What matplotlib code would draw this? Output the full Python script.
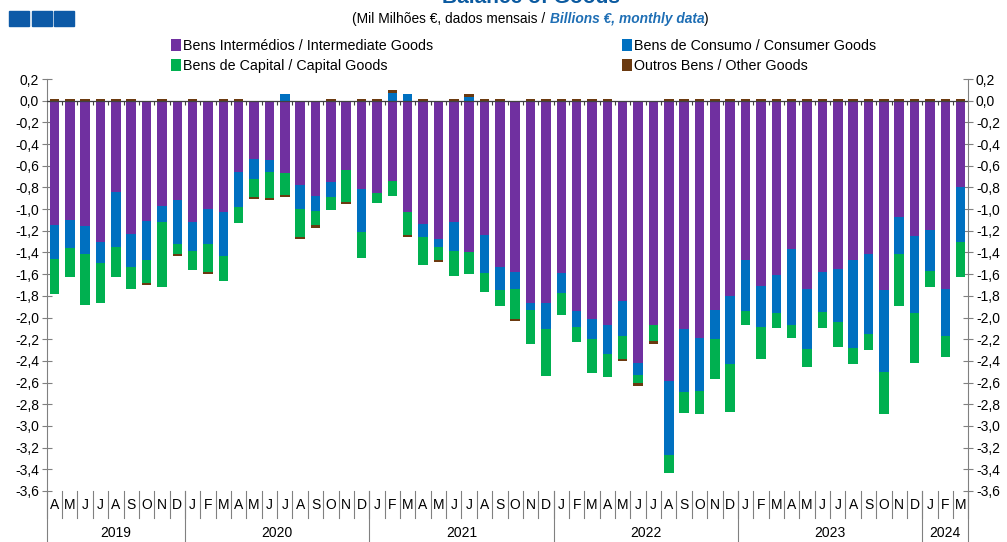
import numpy as np
import matplotlib.pyplot as plt
from matplotlib.patches import Rectangle

# ---- data (billions EUR, monthly, Apr 2019 - Mar 2024) ----
intermediate = [-1.15, -1.10, -1.16, -1.30, -0.84, -1.23, -1.11, -0.97, -0.92,
                -1.12, -1.00, -1.03, -0.66, -0.54, -0.55, -0.67, -0.78, -0.88, -0.75, -0.64, -0.81,
                -0.85, -0.74, -1.03, -1.14, -1.28, -1.12, -1.40, -1.24, -1.53, -1.58, -1.87, -1.87,
                -1.59, -1.94, -2.01, -2.07, -1.85, -2.42, -2.07, -2.59, -2.11, -2.19, -1.93, -1.80,
                -1.47, -1.71, -1.61, -1.37, -1.74, -1.58, -1.55, -1.47, -1.41, -1.75, -1.07, -1.25,
                -1.19, -1.74, -0.80]
consumer = [-0.31, -0.26, -0.25, -0.20, -0.51, -0.30, -0.36, -0.15, -0.40,
            -0.27, -0.32, -0.40, -0.32, -0.18, -0.11, 0.06, -0.22, -0.14, -0.14, 0.00, -0.40,
            0.00, 0.07, 0.06, -0.12, -0.07, -0.27, 0.03, -0.35, -0.22, -0.16, -0.06, -0.24,
            -0.18, -0.15, -0.19, -0.27, -0.32, -0.11, 0.00, -0.68, -0.58, -0.49, -0.27, -0.63,
            -0.47, -0.38, -0.35, -0.70, -0.55, -0.37, -0.49, -0.81, -0.74, -0.75, -0.34, -0.71,
            -0.38, -0.43, -0.50]
capital = [-0.32, -0.27, -0.47, -0.37, -0.28, -0.21, -0.21, -0.60, -0.09,
           -0.17, -0.26, -0.23, -0.15, -0.17, -0.24, -0.20, -0.26, -0.13, -0.12, -0.29, -0.24,
           -0.09, -0.14, -0.21, -0.26, -0.12, -0.23, -0.20, -0.17, -0.14, -0.27, -0.31, -0.43,
           -0.21, -0.14, -0.31, -0.21, -0.21, -0.07, -0.15, -0.16, -0.19, -0.21, -0.37, -0.44,
           -0.13, -0.29, -0.14, -0.12, -0.17, -0.15, -0.23, -0.15, -0.15, -0.39, -0.48, -0.46,
           -0.15, -0.19, -0.33]
other = [0.02, 0.02, 0.02, 0.02, 0.02, 0.02, -0.02, 0.02, -0.02,
         0.02, -0.02, 0.02, 0.02, -0.02, -0.02, -0.02, -0.02, -0.02, 0.02, -0.02, 0.02,
         0.02, 0.03, -0.02, 0.02, -0.02, 0.02, 0.03, 0.02, 0.02, -0.02, 0.02, 0.02,
         0.02, 0.02, 0.02, 0.02, -0.02, -0.03, -0.02, 0.02, 0.02, 0.02, 0.02, 0.02,
         0.02, 0.02, 0.02, 0.02, 0.02, 0.02, 0.02, 0.02, 0.02, 0.02, 0.02, 0.02,
         0.02, 0.02, 0.02]

month_labels = list("AMJJASOND") + list("JFMAMJJASOND") * 4 + list("JFM")
years = ['2019', '2020', '2021', '2022', '2023', '2024']
months_in_year = [9, 12, 12, 12, 12, 3]

series = [
    (intermediate, '#7030A0', 'Bens Intermédios / Intermediate Goods'),
    (consumer, '#0070C0', 'Bens de Consumo / Consumer Goods'),
    (capital, '#00B050', 'Bens de Capital / Capital Goods'),
    (other, '#6B3A10', 'Outros Bens / Other Goods'),
]

plt.rcParams['font.family'] = ['Liberation Sans', 'DejaVu Sans']

fig = plt.figure(figsize=(10.07, 5.42), dpi=100)
ax = fig.add_axes([0.0464, 0.0941, 0.9152, 0.7601])

x = np.arange(len(month_labels))
pos_base = np.zeros(len(x))
neg_base = np.zeros(len(x))
handles = []
for vals, col, lab in series:
    v = np.array(vals)
    bottom = np.where(v >= 0, pos_base, neg_base)
    h = ax.bar(x, v, bottom=bottom, width=0.62, color=col, label=lab, zorder=2)
    handles.append(h)
    pos_base = pos_base + np.where(v >= 0, v, 0)
    neg_base = neg_base + np.where(v < 0, v, 0)

ax.set_xlim(-0.5, len(x) - 0.5)
ax.set_ylim(-3.6, 0.2)
yt = np.round(np.arange(-3.6, 0.21, 0.2), 1)
ax.set_yticks(yt)
ax.set_yticklabels([f'{t:.1f}'.replace('.', ',') for t in yt], fontsize=10)
ax.tick_params(axis='y', direction='inout', length=7, width=0.8, color='#808080',
               labelright=True, right=True, pad=2)
ax.set_xticks([])
for s in ['top', 'bottom']:
    ax.spines[s].set_visible(False)
for s in ['left', 'right']:
    ax.spines[s].set_color('#808080')
    ax.spines[s].set_bounds(-3.6, 0.2)

# zero line with small ticks between months
ax.axhline(0, color='#404040', lw=0.9, zorder=3)
ax.vlines(x[:-1] + 0.5, -0.035, 0, color='#404040', lw=0.8, zorder=3)

# category labels below the plot
tr = ax.get_xaxis_transform()
for i, m in enumerate(month_labels):
    ax.text(i, -0.034, m, transform=tr, ha='center', va='center', fontsize=10, clip_on=False)
for b in np.arange(-0.5, len(x)):
    ax.plot([b, b], [0, -0.066], transform=tr, color='#808080', lw=0.8, clip_on=False)
start = -0.5
for yr, n in zip(years, months_in_year):
    ax.text(start + n / 2, -0.102, yr, transform=tr, ha='center', va='center', fontsize=10, clip_on=False)
    ax.plot([start, start], [0, -0.13], transform=tr, color='#808080', lw=0.8, clip_on=False)
    start += n
ax.plot([start, start], [0, -0.13], transform=tr, color='#808080', lw=0.8, clip_on=False)

# legend
leg = fig.legend(handles=[handles[0], handles[2], handles[1], handles[3]],
                 labels=[series[0][2], series[2][2], series[1][2], series[3][2]],
                 ncol=2, loc='upper left', bbox_to_anchor=(0.157, 0.952), frameon=False,
                 handlelength=0.7, handleheight=0.9, handletextpad=0.15, columnspacing=13.2,
                 labelspacing=0.42, prop={'size': 10.3})

# title (cut off at top) and subtitle
fig.text(0.527, 0.995, 'Balance of Goods', ha='center', va='baseline', fontsize=15,
         fontweight='bold', color='#0B5AA0')
sub1 = fig.text(0.35, 0.965, '(Mil Milhões €, dados mensais / ', ha='left', va='center',
                fontsize=9.9)
fig.canvas.draw()
bb = sub1.get_window_extent().transformed(fig.transFigure.inverted())
sub2 = fig.text(bb.x1, 0.965, 'Billions €, monthly data', ha='left', va='center',
                fontsize=9.9, style='italic', fontweight='bold', color='#1F6FB5')
fig.canvas.draw()
bb2 = sub2.get_window_extent().transformed(fig.transFigure.inverted())
fig.text(bb2.x1, 0.965, ')', ha='left', va='center', fontsize=9.9)

# little blue squares in the corner
for x0 in [9, 32, 54]:
    fig.patches.append(Rectangle((x0 / 1007, 1 - 26 / 542), 20 / 1007, 15 / 542,
                                 transform=fig.transFigure, color='#0D5AA7'))

plt.savefig('out.png', dpi=100)
